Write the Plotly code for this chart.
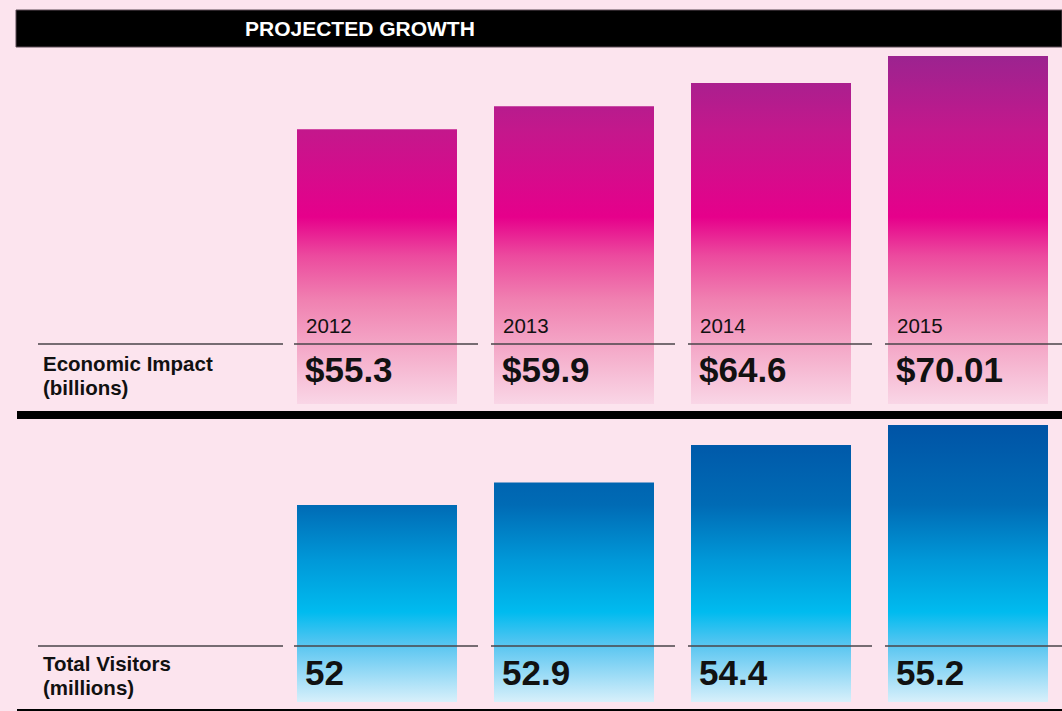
import plotly.graph_objects as go

# ---------------- data ----------------
years = ["2012", "2013", "2014", "2015"]
impact = [55.3, 59.9, 64.6, 70.01]
impact_labels = ["$55.3", "$59.9", "$64.6", "$70.01"]
visitors = [52, 52.9, 54.4, 55.2]
visitor_labels = ["52", "52.9", "54.4", "55.2"]
title_text = "PROJECTED GROWTH"
top_row_label = ["Economic Impact", "(billions)"]
bottom_row_label = ["Total Visitors", "(millions)"]

# ---------------- geometry / style ----------------
W, H = 1062, 711
BG = "#fce4ee"
FONT = "Liberation Sans, Arial, Helvetica, sans-serif"


def py(p):
    return 1 - p / H


def px(p):
    return p / W


x0px, step_px, bar_px = 377, 197, 160
xmin = -x0px / step_px
xmax = (W - x0px) / step_px
half = bar_px / 2 / step_px

top_range = [0, (404 - 47) / 4.97]
vis_base = 44.12
bottom_range = [vis_base, vis_base + (702 - 419) / 25.0]

pink_scale = [
    [0.0, "#f9d6e6"],
    [0.168, "#f4a6c6"],
    [0.294, "#f081b1"],
    [0.42, "#ec4a9e"],
    [0.53, "#e6008b"],
    [0.78, "#c3188c"],
    [1.0, "#992490"],
]
blue_scale = [
    [0.0, "#d8f0fb"],
    [0.2, "#5bc6f1"],
    [0.322, "#00bbef"],
    [0.508, "#0098d8"],
    [0.705, "#006bb5"],
    [1.0, "#0053a5"],
]

fig = go.Figure()

for i, v in enumerate(impact):
    fig.add_trace(go.Scatter(
        x=[i - half, i + half, i + half, i - half, i - half],
        y=[top_range[0], top_range[0], v, v, top_range[0]],
        mode="lines", fill="toself",
        fillgradient=dict(type="vertical", colorscale=pink_scale,
                          start=top_range[0], stop=71.0),
        line=dict(width=0, color="rgba(0,0,0,0)"),
        hoverinfo="skip", showlegend=False, xaxis="x", yaxis="y",
    ))

for i, v in enumerate(visitors):
    fig.add_trace(go.Scatter(
        x=[i - half, i + half, i + half, i - half, i - half],
        y=[vis_base, vis_base, v, v, vis_base],
        mode="lines", fill="toself",
        fillgradient=dict(type="vertical", colorscale=blue_scale,
                          start=vis_base, stop=55.3),
        line=dict(width=0, color="rgba(0,0,0,0)"),
        hoverinfo="skip", showlegend=False, xaxis="x2", yaxis="y2",
    ))

shapes = []
annotations = []

# header bar
shapes.append(dict(type="rect", xref="paper", yref="paper",
                   x0=px(16), x1=1.0, y0=py(47), y1=py(10),
                   fillcolor="#000000", line=dict(color="#5a4a55", width=1)))
annotations.append(dict(text="<b>" + title_text + "</b>", xref="paper", yref="paper",
                        x=px(243), y=py(28.5), xanchor="left", yanchor="middle",
                        showarrow=False, font=dict(family=FONT, size=21, color="#ffffff")))

# separators
shapes.append(dict(type="rect", xref="paper", yref="paper",
                   x0=px(17), x1=1.0, y0=py(419), y1=py(411),
                   fillcolor="#000000", line=dict(width=0)))
shapes.append(dict(type="rect", xref="paper", yref="paper",
                   x0=px(17), x1=1.0, y0=py(711), y1=py(709),
                   fillcolor="#000000", line=dict(width=0)))

# row rules
for ypx in (344, 646):
    shapes.append(dict(type="line", xref="paper", yref="paper",
                       x0=px(38), x1=px(283), y0=py(ypx), y1=py(ypx),
                       line=dict(color="#4a4448", width=1.5)))
    for i in range(len(years)):
        shapes.append(dict(type="line", xref="x", yref="paper",
                           x0=i - half - 3 / step_px, x1=i + half + 21 / step_px,
                           y0=py(ypx), y1=py(ypx),
                           line=dict(color="#4a4448", width=1.5)))


# row labels: one text each, tight line spacing (base size sets line pitch)
def two_line(lines):
    return "<br>".join('<span style="font-size:20.5px"><b>%s</b></span>' % t for t in lines)


for lines, ypx in ((top_row_label, 375), (bottom_row_label, 675.5)):
    annotations.append(dict(text=two_line(lines), xref="paper", yref="paper",
                            x=px(41), y=py(ypx), xanchor="left", yanchor="middle",
                            align="left", showarrow=False,
                            font=dict(family=FONT, size=18.3, color="#111111")))

# year + value labels
for i, (yr, lab) in enumerate(zip(years, impact_labels)):
    annotations.append(dict(text=yr, xref="x", yref="paper",
                            x=i - half + 7 / step_px, y=py(325.5), xanchor="left", yanchor="middle",
                            showarrow=False, font=dict(family=FONT, size=20.5, color="#111111")))
    annotations.append(dict(text="<b>" + lab + "</b>", xref="x", yref="paper",
                            x=i - half + 6 / step_px, y=py(369.5), xanchor="left", yanchor="middle",
                            showarrow=False, font=dict(family=FONT, size=35, color="#111111")))
for i, lab in enumerate(visitor_labels):
    annotations.append(dict(text="<b>" + lab + "</b>", xref="x", yref="paper",
                            x=i - half + 6 / step_px, y=py(672), xanchor="left", yanchor="middle",
                            showarrow=False, font=dict(family=FONT, size=35, color="#111111")))

axis_common = dict(visible=False, showgrid=False, zeroline=False, fixedrange=True)

fig.update_layout(
    width=W, height=H,
    margin=dict(l=0, r=0, t=0, b=0),
    paper_bgcolor=BG, plot_bgcolor=BG,
    showlegend=False,
    xaxis=dict(range=[xmin, xmax], domain=[0, 1], anchor="y", **axis_common),
    yaxis=dict(range=top_range, domain=[py(404), py(47)], anchor="x", **axis_common),
    xaxis2=dict(range=[xmin, xmax], domain=[0, 1], anchor="y2", matches="x", **axis_common),
    yaxis2=dict(range=bottom_range, domain=[py(702), py(419)], anchor="x2", **axis_common),
    shapes=shapes,
    annotations=annotations,
)

fig.write_html(
    "out.html",
    config={"displayModeBar": False},
    post_script="document.body.style.margin='0px';document.body.style.background='" + BG + "';",
)
